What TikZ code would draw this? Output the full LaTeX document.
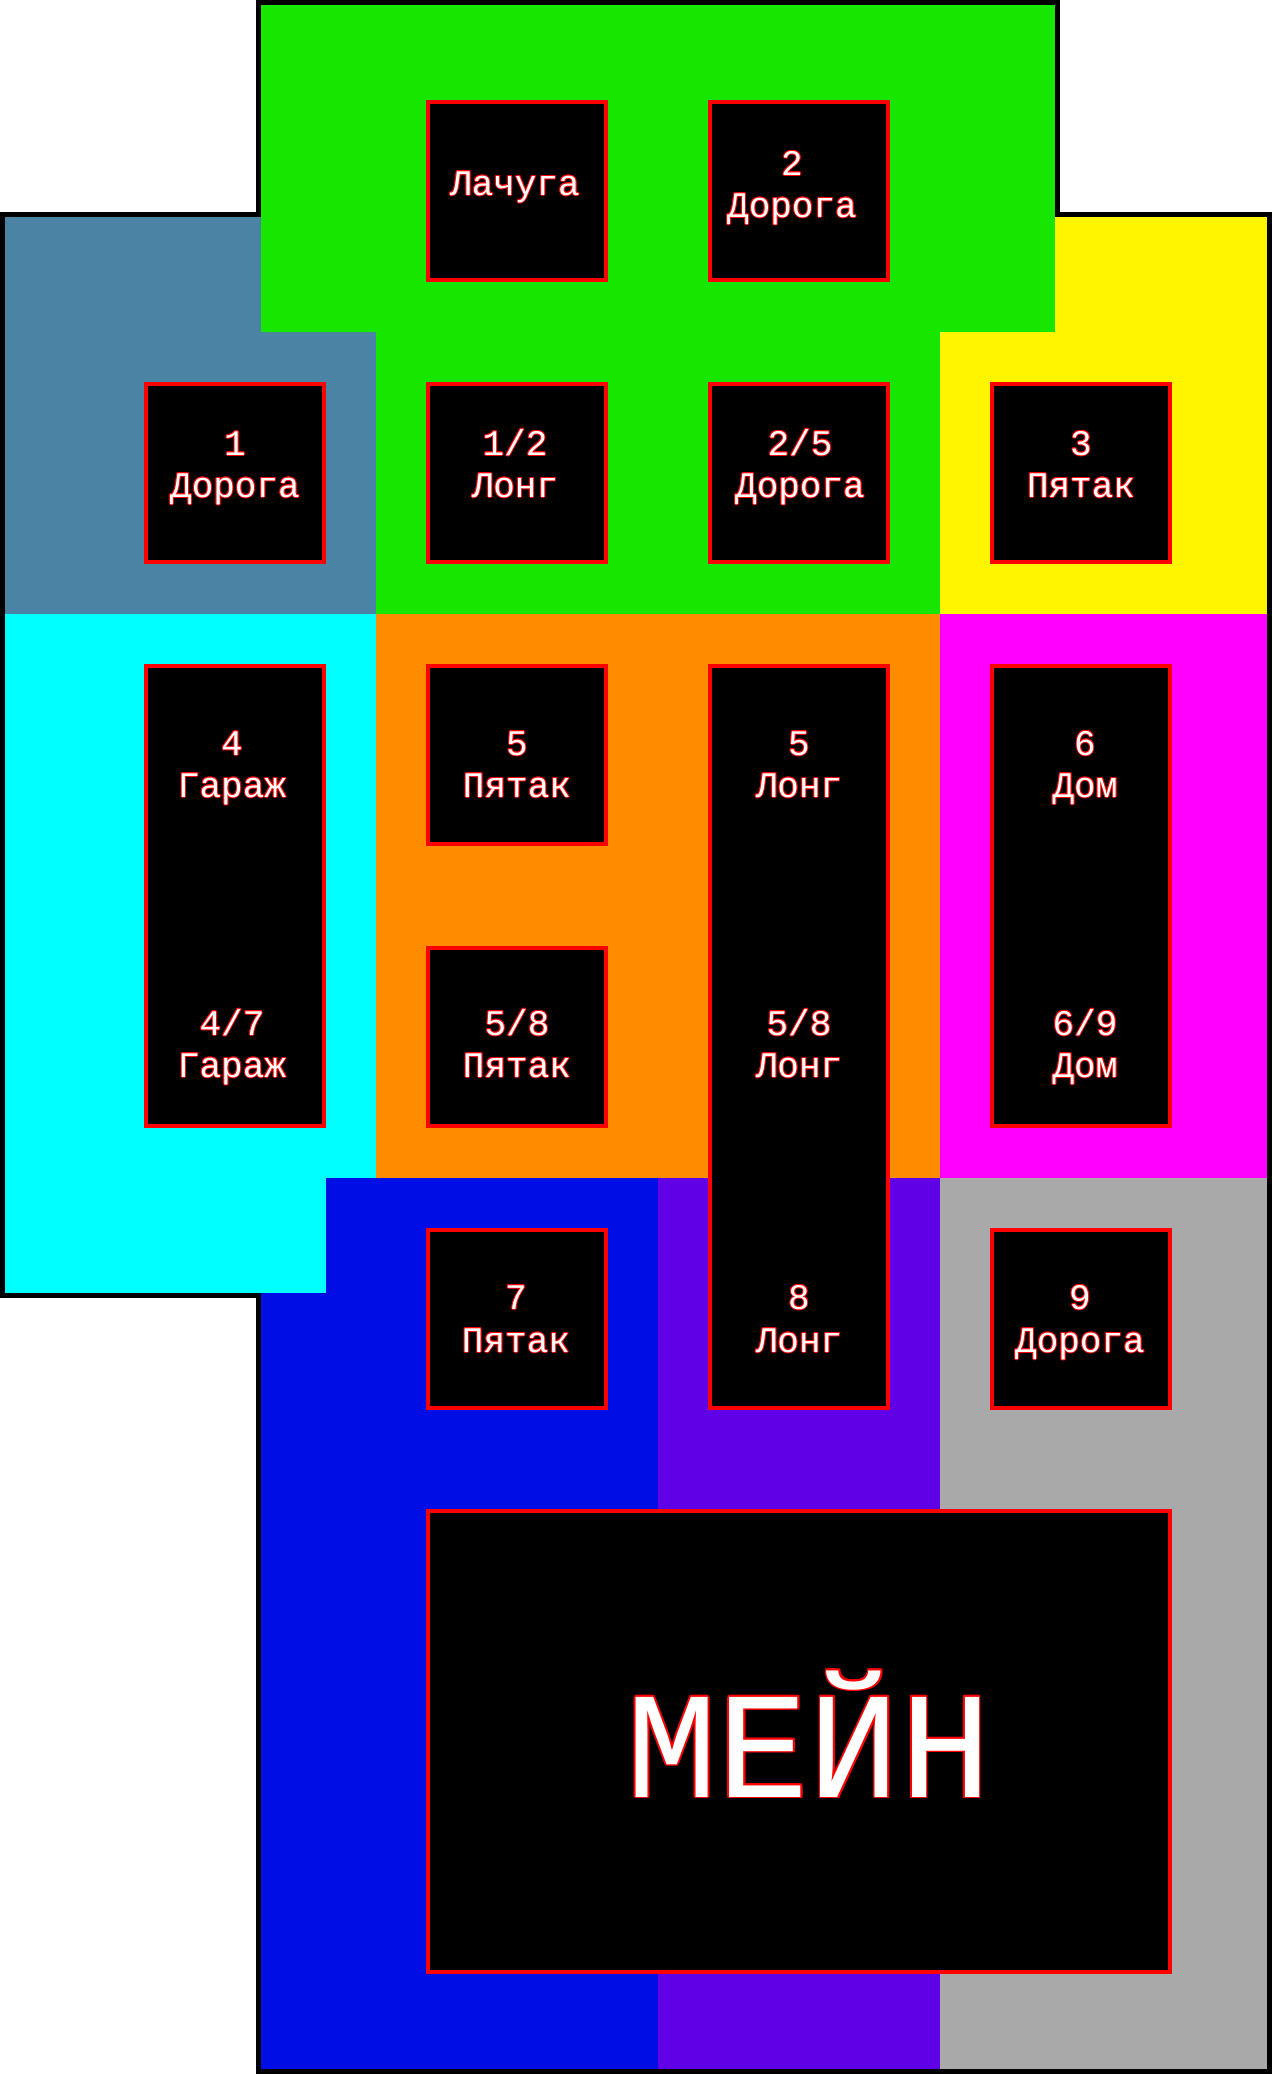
\documentclass[tikz,border=0pt]{standalone}
\usepackage{fontspec}
\newfontfamily\labfont{Liberation Mono}
\definecolor{cgreen}{RGB}{22,230,0}
\definecolor{csteel}{RGB}{74,131,164}
\definecolor{cyellow}{RGB}{255,245,0}
\definecolor{ccyan}{RGB}{0,255,255}
\definecolor{corange}{RGB}{255,140,0}
\definecolor{cmagenta}{RGB}{255,0,255}
\definecolor{cblue}{RGB}{0,14,230}
\definecolor{cpurple}{RGB}{96,0,230}
\definecolor{cgray}{RGB}{169,169,169}
\newlength\olw
\setlength\olw{0.5pt}
\newcommand\oltext[1]{%
  \leavevmode\hbox{%
    \rlap{\kern\olw\hbox{\textcolor{red}{#1}}}%
    \rlap{\kern-\olw\hbox{\textcolor{red}{#1}}}%
    \rlap{\raise\olw\hbox{\textcolor{red}{#1}}}%
    \rlap{\lower\olw\hbox{\textcolor{red}{#1}}}%
    \rlap{\kern.7\olw\raise.7\olw\hbox{\textcolor{red}{#1}}}%
    \rlap{\kern-.7\olw\raise.7\olw\hbox{\textcolor{red}{#1}}}%
    \rlap{\kern.7\olw\lower.7\olw\hbox{\textcolor{red}{#1}}}%
    \rlap{\kern-.7\olw\lower.7\olw\hbox{\textcolor{red}{#1}}}%
    \textcolor{white}{#1}}}
\tikzset{
  roombox/.style={rectangle, draw=red, line width=2pt, fill=black, inner sep=0pt},
  sqbox/.style={roombox, minimum width=89pt, minimum height=89pt},
  tallbox/.style={roombox, minimum width=89pt, minimum height=230pt},
  longbox/.style={roombox, minimum width=89pt, minimum height=371pt},
  lab/.style={anchor=base, inner sep=0pt, outer sep=0pt, font=\labfont\fontsize{18}{21}\selectfont},
  biglab/.style={anchor=base, inner sep=0pt, outer sep=0pt, font=\labfont\fontsize{76}{80}\selectfont},
  outline/.style={draw=black, line width=2.5pt, line join=miter}
}
\begin{document}
\begin{tikzpicture}[x=0.5pt,y=-0.5pt]
\useasboundingbox (0,0) rectangle (1272,2074);
\fill[white] (0,0) rectangle (1272,2074);
% zones
\fill[csteel] (5,217) -- (261,217) -- (261,332) -- (376,332) -- (376,614) -- (5,614) -- cycle;
\fill[cgreen] (261,5) -- (1055,5) -- (1055,332) -- (940,332) -- (940,614) -- (376,614) -- (376,332) -- (261,332) -- cycle;
\fill[cyellow] (1055,217) -- (1267,217) -- (1267,614) -- (940,614) -- (940,332) -- (1055,332) -- cycle;
\fill[ccyan] (5,614) -- (376,614) -- (376,1178) -- (326,1178) -- (326,1293) -- (5,1293) -- cycle;
\fill[corange] (376,614) rectangle (940,1178);
\fill[cmagenta] (940,614) rectangle (1267,1178);
\fill[cblue] (326,1178) -- (658,1178) -- (658,2069) -- (261,2069) -- (261,1293) -- (326,1293) -- cycle;
\fill[cpurple] (658,1178) rectangle (940,2069);
\fill[cgray] (940,1178) rectangle (1267,2069);
% outer outline
\draw[outline] (258.5,2.5) -- (1057.5,2.5) -- (1057.5,214.5) -- (1269.5,214.5) -- (1269.5,2071.5) -- (258.5,2071.5) -- (258.5,1295.5) -- (2.5,1295.5) -- (2.5,214.5) -- (258.5,214.5) -- cycle;
% boxes
\node[sqbox] (lach) at (517,191) {};
\node[sqbox] (dor2) at (799,191) {};
\node[sqbox] (dor1) at (235,473) {};
\node[sqbox] (long12) at (517,473) {};
\node[sqbox] (dor25) at (799,473) {};
\node[sqbox] (pyat3) at (1081,473) {};
\node[tallbox] (gar4) at (235,896) {};
\node[sqbox] (pyat5) at (517,755) {};
\node[sqbox] (pyat58) at (517,1037) {};
\node[sqbox] (pyat7) at (517,1319) {};
\node[longbox] (long5) at (799,1037) {};
\node[tallbox] (dom6) at (1081,896) {};
\node[sqbox] (dor9) at (1081,1319) {};
\node[roombox, minimum width=371pt, minimum height=230.5pt] (main) at (799,1741.5) {};
% labels
\node[lab] (t-lach) at (515,195) {\oltext{Лачуга}};
\node[lab] (t-dor2a) at (792,175) {\oltext{2}};
\node[lab] (t-dor2b) at (792,217) {\oltext{Дорога}};
\node[lab] (t-dor1a) at (235,455) {\oltext{1}};
\node[lab] (t-dor1b) at (235,497) {\oltext{Дорога}};
\node[lab] (t-l12a) at (515,455) {\oltext{1/2}};
\node[lab] (t-l12b) at (515,497) {\oltext{Лонг}};
\node[lab] (t-d25a) at (800,455) {\oltext{2/5}};
\node[lab] (t-d25b) at (800,497) {\oltext{Дорога}};
\node[lab] (t-p3a) at (1081,455) {\oltext{3}};
\node[lab] (t-p3b) at (1081,497) {\oltext{Пятак}};
\node[lab] (t-g4a) at (232,755) {\oltext{4}};
\node[lab] (t-g4b) at (232,797) {\oltext{Гараж}};
\node[lab] (t-g47a) at (232,1035) {\oltext{4/7}};
\node[lab] (t-g47b) at (232,1077) {\oltext{Гараж}};
\node[lab] (t-p5a) at (517,755) {\oltext{5}};
\node[lab] (t-p5b) at (517,797) {\oltext{Пятак}};
\node[lab] (t-p58a) at (517,1035) {\oltext{5/8}};
\node[lab] (t-p58b) at (517,1077) {\oltext{Пятак}};
\node[lab] (t-p7a) at (516,1309) {\oltext{7}};
\node[lab] (t-p7b) at (516,1352) {\oltext{Пятак}};
\node[lab] (t-l5a) at (799,755) {\oltext{5}};
\node[lab] (t-l5b) at (799,797) {\oltext{Лонг}};
\node[lab] (t-l58a) at (799,1035) {\oltext{5/8}};
\node[lab] (t-l58b) at (799,1077) {\oltext{Лонг}};
\node[lab] (t-l8a) at (799,1309) {\oltext{8}};
\node[lab] (t-l8b) at (799,1352) {\oltext{Лонг}};
\node[lab] (t-d6a) at (1085,755) {\oltext{6}};
\node[lab] (t-d6b) at (1085,797) {\oltext{Дом}};
\node[lab] (t-d69a) at (1085,1035) {\oltext{6/9}};
\node[lab] (t-d69b) at (1085,1077) {\oltext{Дом}};
\node[lab] (t-d9a) at (1080,1309) {\oltext{9}};
\node[lab] (t-d9b) at (1080,1352) {\oltext{Дорога}};
\node[biglab] (t-main) at (809,1797) {\setlength\olw{0.9pt}\oltext{МЕЙН}};
\end{tikzpicture}
\end{document}
